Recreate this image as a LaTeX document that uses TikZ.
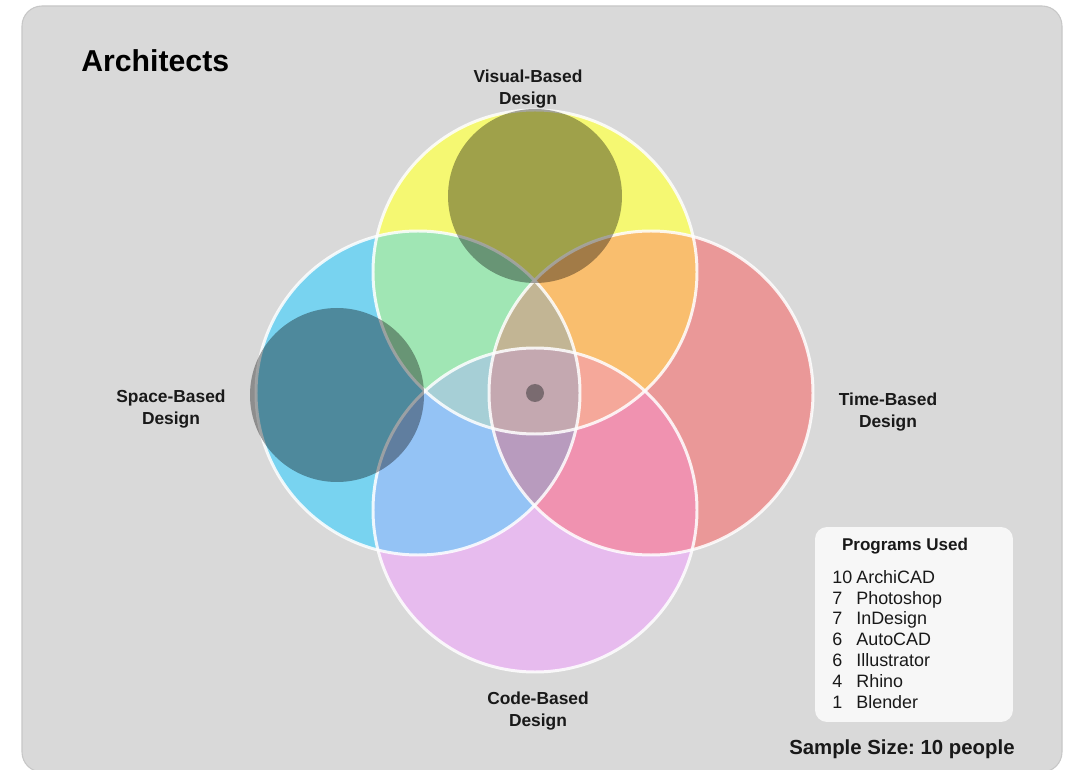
\documentclass[tikz,border=0pt]{standalone}
\usepackage{fontspec}
\setmainfont{Liberation Sans}
\usetikzlibrary{positioning}
\frenchspacing
\definecolor{panelgray}{HTML}{D9D9D9}
\definecolor{legendwhite}{HTML}{F7F7F7}
\definecolor{visyellow}{HTML}{F5F872}
\definecolor{spablue}{HTML}{78D3F0}
\definecolor{timred}{HTML}{EA9898}
\definecolor{codpink}{HTML}{E7BBEE}
\definecolor{visspa}{HTML}{A0E6B4}
\definecolor{vistim}{HTML}{F9BE6E}
\definecolor{spacod}{HTML}{94C3F5}
\definecolor{timcod}{HTML}{F092B0}
\definecolor{vst}{HTML}{C2B594}
\definecolor{vsc}{HTML}{A6CFD6}
\definecolor{vtc}{HTML}{F5A89A}
\definecolor{stc}{HTML}{B89BBE}
\definecolor{allfour}{HTML}{C4A8B0}
\definecolor{dotgray}{HTML}{7A6B70}
\tikzset{
  setlabel/.style={font=\bfseries\fontsize{9.9}{12.2}\selectfont,align=center,inner sep=0pt,text=black!90},
  ring/.style={draw=white,draw opacity=.85,line width=1.7pt},
  shadecirc/.style={fill=black,fill opacity=.35},
  itemtext/.style={font=\fontsize{10.2}{11.8}\selectfont,anchor=base west,inner sep=0pt,text=black!90},
  headtext/.style={font=\bfseries\fontsize{9.7}{11.8}\selectfont,anchor=base,inner sep=0pt,text=black!90},
}

\begin{document}
\begin{tikzpicture}[x=.02cm,y=-.02cm]
  \useasboundingbox (0,0) rectangle (1073,770);
  \fill[white] (0,0) rectangle (1073,770);
  \begin{scope}
    \clip (0,0) rectangle (1073,770);
    \filldraw[fill=panelgray,draw=black!22,line width=.6pt,rounded corners=.4cm] (22,6) rectangle (1062,772);
  \end{scope}
  \node[anchor=base west,inner sep=0pt,font=\bfseries\fontsize{17.2}{20}\selectfont] (title) at (81,72) {Architects};

  \def\rr{162}
  \coordinate (vis) at (535,272);
  \coordinate (spa) at (418,393);
  \coordinate (tim) at (651,393);
  \coordinate (cod) at (535,510);
  \foreach \cc/\col in {vis/visyellow,spa/spablue,tim/timred,cod/codpink}{
    \fill[\col] (\cc) circle[radius=\rr];
  }
  \begin{scope}
    \clip (vis) circle[radius=\rr];
    \fill[visspa] (spa) circle[radius=\rr];
    \fill[vistim] (tim) circle[radius=\rr];
  \end{scope}
  \begin{scope}
    \clip (cod) circle[radius=\rr];
    \fill[spacod] (spa) circle[radius=\rr];
    \fill[timcod] (tim) circle[radius=\rr];
  \end{scope}
  \begin{scope}
    \clip (vis) circle[radius=\rr];
    \clip (spa) circle[radius=\rr];
    \fill[vst] (tim) circle[radius=\rr];
    \fill[vsc] (cod) circle[radius=\rr];
  \end{scope}
  \begin{scope}
    \clip (tim) circle[radius=\rr];
    \clip (cod) circle[radius=\rr];
    \fill[vtc] (vis) circle[radius=\rr];
    \fill[stc] (spa) circle[radius=\rr];
  \end{scope}
  \begin{scope}
    \clip (vis) circle[radius=\rr];
    \clip (spa) circle[radius=\rr];
    \clip (tim) circle[radius=\rr];
    \fill[allfour] (cod) circle[radius=\rr];
  \end{scope}
  \foreach \cc in {vis,spa,tim,cod}{
    \draw[ring] (\cc) circle[radius=\rr];
  }
  \coordinate (visdark) at (535,196);
  \coordinate (spadark) at (337,395);
  \fill[shadecirc] (visdark) circle[radius=87];
  \fill[shadecirc] (spadark) circle[radius=87];
  \coordinate (mid) at (535,393);
  \fill[dotgray] (mid) circle[radius=9];

  \node[setlabel] (vislab) at (528,89) {Visual-Based\\Design};
  \node[setlabel] (spalab) at (171,409) {Space-Based\\Design};
  \node[setlabel] (timlab) at (888,412) {Time-Based\\Design};
  \node[setlabel] (codlab) at (538,711) {Code-Based\\Design};

  \node[fill=legendwhite,rounded corners=.24cm,minimum width=3.96cm,minimum height=3.9cm,inner sep=0pt] (legend) at (914,624.5) {};
  \node[headtext] (legendhead) at (905,551) {Programs Used};
  \foreach \nn/\prog [count=\i] in {10/ArchiCAD,7/Photoshop,7/InDesign,6/AutoCAD,6/Illustrator,4/Rhino,1/Blender}{
    \node[itemtext] (num\i) at (832,562.5+20.8*\i) {\nn};
    \node[itemtext] (prog\i) at (856,562.5+20.8*\i) {\prog};
  }
  \node[anchor=base east,inner sep=0pt,font=\bfseries\fontsize{11.6}{14}\selectfont,text=black!90] (sample) at (1015,754) {Sample Size: 10 people};
\end{tikzpicture}
\end{document}
